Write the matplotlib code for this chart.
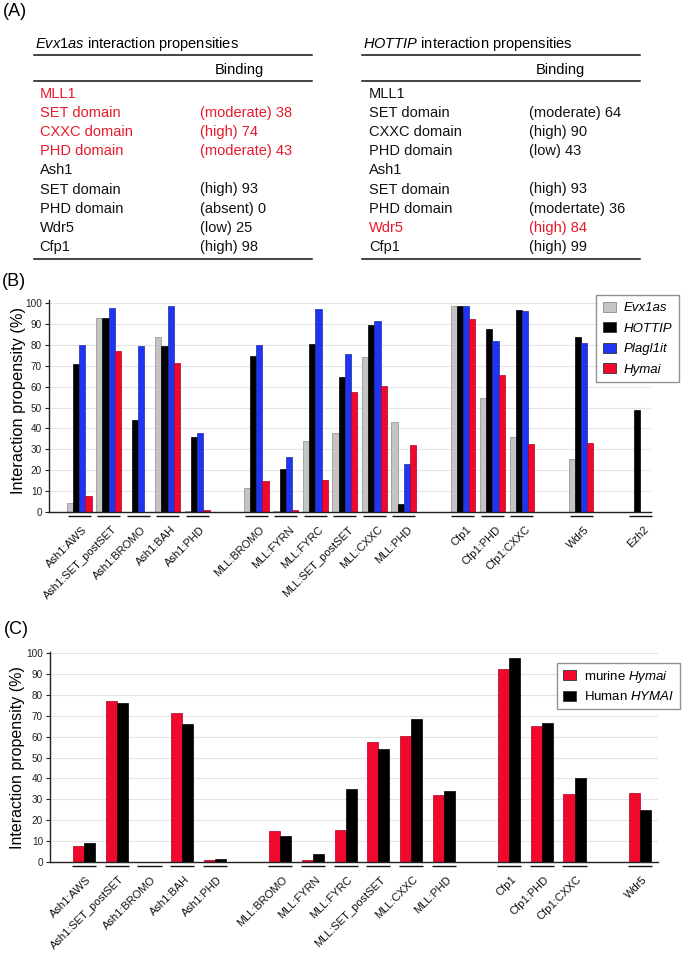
import matplotlib
matplotlib.use('Agg')
import matplotlib.pyplot as plt
import matplotlib.transforms as mtransforms
from matplotlib.patches import Patch
from matplotlib.lines import Line2D
import numpy as np

plt.rcParams['font.family'] = ['Liberation Sans', 'DejaVu Sans']
plt.rcParams['mathtext.fontset'] = 'custom'
plt.rcParams['mathtext.rm'] = 'Liberation Sans'
plt.rcParams['mathtext.it'] = 'Liberation Sans:italic'

# ---------------- data ----------------
# Panel A tables
table_rows = ["MLL1", "SET domain", "CXXC domain", "PHD domain", "Ash1",
              "SET domain", "PHD domain", "Wdr5", "Cfp1"]
evx1as_binding = ["", "(moderate) 38", "(high) 74", "(moderate) 43", "",
                  "(high) 93", "(absent) 0", "(low) 25", "(high) 98"]
hottip_binding = ["", "(moderate) 64", "(high) 90", "(low) 43", "",
                  "(high) 93", "(modertate) 36", "(high) 84", "(high) 99"]
evx1as_red_rows = [0, 1, 2, 3]
hottip_red_rows = [7]

# Panel B
groups_B = [["Ash1:AWS", "Ash1:SET_postSET", "Ash1:BROMO", "Ash1:BAH", "Ash1:PHD"],
            ["MLL:BROMO", "MLL:FYRN", "MLL:FYRC", "MLL:SET_postSET", "MLL:CXXC", "MLL:PHD"],
            ["Cfp1", "Cfp1:PHD", "Cfp1:CXXC"],
            ["Wdr5"],
            ["Ezh2"]]
B_evx1as   = [4.5, 93, 0, 84, 0.5,   11.5, 0.5, 34, 38, 74, 43,   98.5, 54.7, 35.7,  25.5,  0]
B_hottip   = [71, 93, 44, 79.5, 36,  74.5, 20.5, 80.5, 64.5, 89.5, 4,  98.6, 87.7, 96.5, 84,  49]
B_plagl1it = [80, 97.5, 79.5, 98.5, 38,  80, 26.5, 97, 75.5, 91.5, 23,  98.5, 82, 96,  81,  0]
B_hymai    = [7.5, 77, 0, 71.5, 1,   15, 1, 15.5, 57.5, 60.5, 32,   92.5, 65.5, 32.5,  33,  0]
B_series_names = ["Evx1as", "HOTTIP", "Plagl1it", "Hymai"]

# Panel C
groups_C = [["Ash1:AWS", "Ash1:SET_postSET", "Ash1:BROMO", "Ash1:BAH", "Ash1:PHD"],
            ["MLL:BROMO", "MLL:FYRN", "MLL:FYRC", "MLL:SET_postSET", "MLL:CXXC", "MLL:PHD"],
            ["Cfp1", "Cfp1:PHD", "Cfp1:CXXC"],
            ["Wdr5"]]
C_murine = [7.5, 77, 0, 71.5, 1,   15, 0.8, 15.5, 57.5, 60.5, 32.3,   92.5, 65.3, 32.6,  33]
C_human  = [9.3, 76, 0, 66, 1.5,   12.5, 4, 34.7, 54, 68.5, 34.2,     97.8, 66.7, 40.3,  25]
C_series_names = [r"murine $\mathit{Hymai}$", r"Human $\mathit{HYMAI}$"]

yticks = list(range(0, 101, 10))

# ---------------- style ----------------
GRAY, GRAY_EC = '#c4c4c4', '#8c8c8c'
BLACK = '#000000'
BLUE = '#1f35f0'
RED = '#f0092d'
TRED = '#e8192c'

W, H = 687, 958
fig = plt.figure(figsize=(W / 100, H / 100), dpi=100)


def fx(px):
    return px / W


def fy(py):
    return 1 - py / H


def hline(x0, x1, y, lw=1.1):
    fig.add_artist(Line2D([fx(x0), fx(x1)], [fy(y), fy(y)], transform=fig.transFigure,
                          color='#111111', lw=lw))


# ---------------- Panel A ----------------
fig.text(fx(3), fy(11), "(A)", fontsize=13, va='center', ha='left')

def draw_table(x0, x1, title, name_x, val_x, bind_x, values, red_rows):
    fig.text(fx(x0 + 1), fy(44), title, fontsize=10.5, va='center', ha='left')
    hline(x0, x1, 55)
    fig.text(fx(bind_x), fy(70), "Binding", fontsize=10.5, va='center', ha='left')
    hline(x0, x1, 81)
    for i, (name, val) in enumerate(zip(table_rows, values)):
        y = 94 + 19.1 * i
        col = TRED if i in red_rows else '#111111'
        fig.text(fx(name_x), fy(y), name, fontsize=10.5, va='center', ha='left', color=col)
        if val:
            fig.text(fx(val_x), fy(y), val, fontsize=10.5, va='center', ha='left', color=col)
    hline(x0, x1, 259)

draw_table(34, 312, r"$\mathit{Evx1as}$ interaction propensities", 39.5, 200, 215,
           evx1as_binding, evx1as_red_rows)
draw_table(362, 640, r"$\mathit{HOTTIP}$ interaction propensities", 369, 529, 536,
           hottip_binding, hottip_red_rows)


# ---------------- helpers for bar panels ----------------
def slot_positions(groups):
    pos, s = [], 0
    for g in groups:
        for _ in g:
            pos.append(s)
            s += 1
        s += 1
    return np.array(pos, dtype=float)


def style_axes(ax, ytop):
    ax.set_ylim(0, ytop)
    ax.set_yticks(yticks)
    ax.set_xticks([])
    for s in ['top', 'right']:
        ax.spines[s].set_visible(False)
    for s in ['left', 'bottom']:
        ax.spines[s].set_color('#222222')
        ax.spines[s].set_linewidth(1.0)
    ax.yaxis.grid(True, color='#e4e4e4', lw=0.8)
    ax.set_axisbelow(True)
    ax.tick_params(axis='y', labelsize=7.2, length=3, width=0.8, pad=2, colors='#222222')


def category_labels(ax, pos, cats, dx_px, dy_px, half):
    base = mtransforms.blended_transform_factory(ax.transData, ax.transAxes)
    ul = base + mtransforms.ScaledTranslation(0, -4 / 100, fig.dpi_scale_trans)
    tt = base + mtransforms.ScaledTranslation(dx_px / 100, -dy_px / 100, fig.dpi_scale_trans)
    for x, lab in zip(pos, cats):
        ax.plot([x - half, x + half], [0, 0], transform=ul, color='#111111', lw=1.0,
                clip_on=False, solid_capstyle='butt')
        ax.text(x, 0, lab, transform=tt, rotation=45, rotation_mode='anchor',
                ha='right', va='center', fontsize=8, color='#111111')


# ---------------- Panel B ----------------
fig.text(fx(2), fy(282), "(B)", fontsize=13, va='center', ha='left')
axB = fig.add_axes([fx(49), fy(512), fx(651) - fx(49), (512 - 300) / H])
posB = slot_positions(groups_B)
catsB = [c for g in groups_B for c in g]
wB = 0.21
seriesB = [(B_evx1as, GRAY, GRAY_EC), (B_hottip, BLACK, BLACK),
           (B_plagl1it, BLUE, '#1a2bb0'), (B_hymai, RED, '#b00020')]
handlesB = []
for i, (vals, fc, ec) in enumerate(seriesB):
    axB.bar(posB + (i - 1.5) * wB, vals, width=wB, color=fc, edgecolor=ec, linewidth=0.5)
    handlesB.append(Patch(facecolor=fc, edgecolor='#333333' if i else GRAY_EC, linewidth=0.6))
axB.set_xlim(-1.02, 19.37)
style_axes(axB, 101.5)
category_labels(axB, posB, catsB, 6.5, 16, 0.39)
fig.text(fx(18.5), fy(401), "Interaction propensity (%)", rotation=90, fontsize=11.8,
         va='center', ha='center')
legB = fig.legend(handlesB, B_series_names, loc='upper left',
                  bbox_to_anchor=(fx(596), fy(295)), prop={'size': 9.5, 'style': 'italic'},
                  frameon=True, fancybox=False, edgecolor='#777777', borderaxespad=0,
                  handlelength=1.0, handleheight=0.8, handletextpad=0.6,
                  labelspacing=0.6, borderpad=0.5)
legB.get_frame().set_linewidth(1.0)

# ---------------- Panel C ----------------
fig.text(fx(4), fy(630), "(C)", fontsize=13, va='center', ha='left')
axC = fig.add_axes([fx(50), fy(862), fx(658) - fx(50), (862 - 652) / H])
posC = slot_positions(groups_C)
catsC = [c for g in groups_C for c in g]
wC = 0.34
seriesC = [(C_murine, RED, '#b00020'), (C_human, BLACK, BLACK)]
handlesC = []
for i, (vals, fc, ec) in enumerate(seriesC):
    axC.bar(posC + (i - 0.5) * wC, vals, width=wC, color=fc, edgecolor=ec, linewidth=0.5)
    handlesC.append(Patch(facecolor=fc, edgecolor='#333333', linewidth=0.6))
axC.set_xlim(-1.04, 17.55)
style_axes(axC, 100.5)
category_labels(axC, posC, catsC, 5.5, 16, 0.37)
fig.text(fx(17.5), fy(758), "Interaction propensity (%)", rotation=90, fontsize=11.5,
         va='center', ha='center')
legC = fig.legend(handlesC, C_series_names, loc='upper left',
                  bbox_to_anchor=(fx(557), fy(663)), prop={'size': 9.5},
                  frameon=True, fancybox=False, edgecolor='#777777', borderaxespad=0,
                  handlelength=1.0, handleheight=0.8, handletextpad=0.6,
                  labelspacing=0.4, borderpad=0.45)
legC.get_frame().set_linewidth(1.0)

fig.savefig('out.png', dpi=100)
